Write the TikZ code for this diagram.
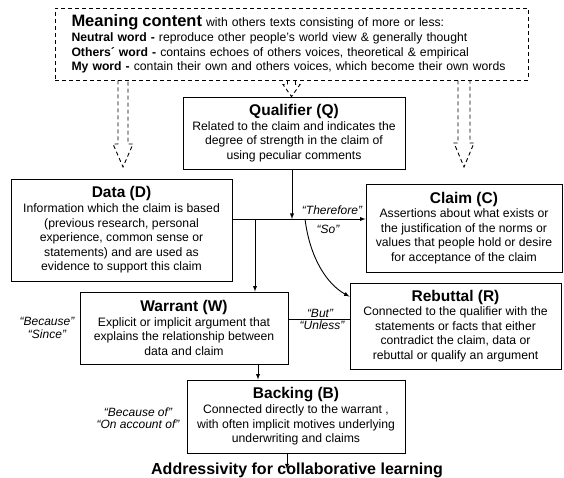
\documentclass[tikz,border=0pt]{standalone}
\usepackage{fontspec}
\setmainfont{Liberation Sans}
\usetikzlibrary{arrows, positioning, calc}

\newcommand{\boxhead}[1]{{\fontsize{15.5}{17}\selectfont\bfseries #1}}

\begin{document}
\begin{tikzpicture}[x=1pt, y=-1pt, >=latex]
    \tikzstyle{box}=[draw, line width=0.9pt, align=center, inner sep=0pt, font=\fontsize{12.2}{14.6}\selectfont]
    \tikzstyle{cue}=[align=center, inner sep=0pt, font=\fontsize{12}{12.5}\selectfont\itshape]
    \tikzstyle{link}=[line width=0.9pt]
    \tikzstyle{hollow}=[dash pattern=on 4pt off 3pt, line width=0.9pt]

    \useasboundingbox (0,0) rectangle (564,478);

    \node[draw, hollow, minimum width=473pt, minimum height=72pt, text width=440pt, align=left, inner sep=0pt, font=\fontsize{12.2}{14.6}\selectfont] (meaning) at (291.5,44)
        {{\fontsize{16.5}{17}\selectfont\bfseries Meaning content} with others texts consisting of more or less:\\
         \textbf{Neutral word -} reproduce other people's world view \& generally thought\\
         \textbf{Others´ word -} contains echoes of others voices, theoretical \& empirical\\
         \textbf{My word -} contain their own and others voices, which become their own words};

    \node[box, minimum width=222pt, minimum height=72pt] (qual) at (294,133)
        {\boxhead{Qualifier (Q)}\\Related to the claim and indicates the\\degree of strength in the claim of\\using peculiar comments};
    \node[box, minimum width=221pt, minimum height=102pt] (data) at (121.5,230)
        {\boxhead{Data (D)}\\Information which the claim is based\\(previous research, personal\\experience, common sense or\\statements) and are used as\\evidence to support this claim};
    \node[box, minimum width=196pt, minimum height=88pt] (claim) at (464,228)
        {\boxhead{Claim (C)}\\Assertions about what exists or\\the justification of the norms or\\values that people hold or desire\\for acceptance of the claim};
    \node[box, minimum width=208pt, minimum height=72pt] (warrant) at (184,328)
        {\boxhead{Warrant (W)}\\Explicit or implicit argument that\\explains the relationship between\\data and claim};
    \node[box, minimum width=211pt, minimum height=86pt] (rebuttal) at (455.5,326)
        {\boxhead{Rebuttal (R)}\\Connected to the qualifier with the\\statements or facts that either\\contradict the claim, data or\\rebuttal or qualify an argument};
    \node[box, minimum width=218pt, minimum height=73pt] (backing) at (296,416.5)
        {\boxhead{Backing (B)}\\Connected directly to the warrant ,\\with often implicit motives underlying\\underwriting and claims};
    \node[inner sep=0pt, font=\fontsize{16}{17}\selectfont\bfseries] (title) at (297,470) {Addressivity for collaborative learning};

    \node[cue] (therefore) at (332,210) {“Therefore”};
    \node[cue] (so) at (328,229) {“So”};
    \node[cue] (but) at (320,313) {“But”};
    \node[cue] (unless) at (322,325) {“Unless”};
    \node[cue] (because) at (47,328) {“Because”\\“Since”};
    \node[cue] (becauseof) at (138,418) {“Because of”\\“On account of”};

    \coordinate (dtip) at (123,167);
    \coordinate (qtip) at (meaning.south |- qual.north);
    \coordinate (ctip) at (464,167);
    \foreach \t/\h/\w/\s in {dtip/23/10/5, qtip/12/8.5/4, ctip/24/10/6}
        \draw[hollow] ([xshift=-\s pt]meaning.south -| \t) |- ([shift={(-\w,-\h)}]\t) -- (\t)
            -- ([shift={(\w,-\h)}]\t) -| ([xshift=\s pt]meaning.south -| \t);

    \coordinate (dout) at ([yshift=11pt]data.east);
    \coordinate (jw) at (dout -| 255,0);
    \coordinate (jq) at (dout -| 292,0);
    \coordinate (jr) at (dout -| 305,0);

    \draw[link, ->] (dout) -- (dout -| claim.west);
    \draw[link, ->] (qual.south -| jq) -- (jq);
    \draw[link, ->] (jw) -- (jw |- warrant.north);
    \draw[link, ->] (jr) .. controls +(5,40) and +(-22,-12) .. ([yshift=-14pt]rebuttal.north west);
    \draw[link] ([yshift=9pt]warrant.east) -- ([yshift=9pt]warrant.east -| rebuttal.west);
    \draw[link, ->] (warrant.south -| 258,0) -- (backing.north -| 258,0);
    \draw[link, ->] (backing.south -| 287,0) -- ([yshift=-7pt]title.north -| 287,0);
\end{tikzpicture}
\end{document}
